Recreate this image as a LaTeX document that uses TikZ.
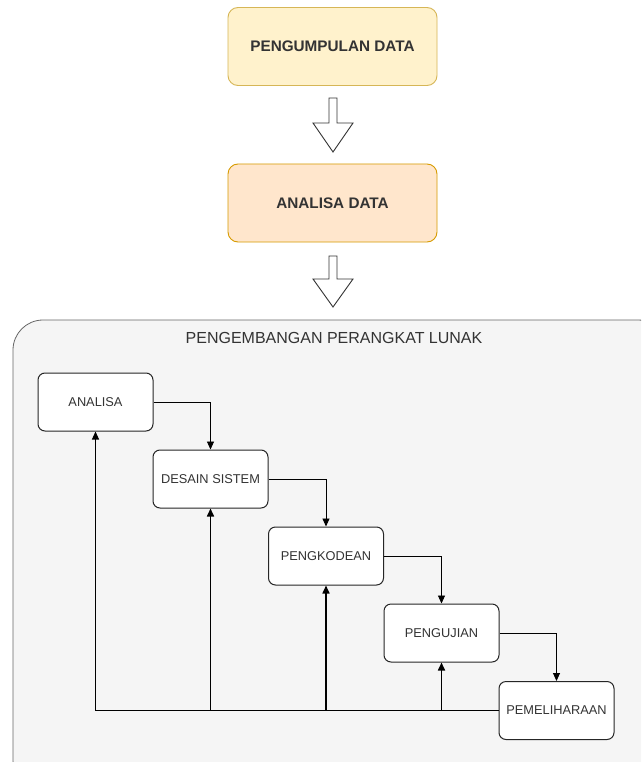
\documentclass[tikz,border=0pt]{standalone}
\usepackage{fontspec}
\setmainfont{Liberation Sans}
\usetikzlibrary{arrows.meta}
\definecolor{ylwfill}{HTML}{FFF2CC}
\definecolor{ylwline}{HTML}{D6B656}
\definecolor{orgfill}{HTML}{FFE6CC}
\definecolor{orgline}{HTML}{D79B00}
\definecolor{grpfill}{HTML}{F5F5F5}
\definecolor{grpline}{HTML}{666666}
\definecolor{txtgray}{HTML}{333333}
\tikzset{
  topbox/.style={draw, rounded corners=10pt, line width=0.9pt, minimum width=209pt, minimum height=78pt, font=\fontsize{15.3}{17}\selectfont\bfseries, text=txtgray},
  stagebox/.style={draw=black!85, fill=white, rounded corners=7pt, line width=1pt, minimum width=115pt, minimum height=58pt, font=\fontsize{12.8}{14}\selectfont, text=txtgray, inner sep=1pt},
  fwd/.style={-{Triangle[length=8pt,width=7pt]}, line width=0.9pt},
  back/.style={-{Triangle[length=8pt,width=7pt]}, line width=1.6pt},
  blockarrow/.style={draw=black!80, fill=white, line width=0.9pt, line join=miter}
}
\begin{document}
\begin{tikzpicture}[x=1pt,y=-1pt]
\useasboundingbox (0,0) rectangle (641,762);
\fill[white] (0,0) rectangle (641,762);
% top boxes
\node[topbox, fill=ylwfill, draw=ylwline] (collect) at (332.5,46.5) {PENGUMPULAN DATA};
\node[topbox, fill=orgfill, draw=orgline] (anadata) at (332.5,203) {ANALISA DATA};
% block arrows
\draw[blockarrow] (329,98) -- (337,98) -- (337,123) -- (353,123) -- (333,152) -- (313,123) -- (329,123) -- cycle;
\draw[blockarrow] (329,256) -- (337,256) -- (337,279) -- (353,279) -- (333,307) -- (313,279) -- (329,279) -- cycle;
% container
\begin{scope}
\clip (0,0) rectangle (641,762);
\draw[fill=grpfill, draw=grpline, line width=0.8pt, rounded corners=30pt] (13,320) rectangle (668,790);
\end{scope}
\node[font=\fontsize{16}{18}\selectfont, text=txtgray] (title) at (334,338) {PENGEMBANGAN PERANGKAT LUNAK};
% stages
\node[stagebox] (s1) at (95.5,402) {ANALISA};
\node[stagebox] (s2) at (210.5,479) {DESAIN SISTEM};
\node[stagebox] (s3) at (326,556) {PENGKODEAN};
\node[stagebox] (s4) at (441.5,633) {PENGUJIAN};
\node[stagebox] (s5) at (556.5,710.5) {PEMELIHARAAN};
% forward connectors
\draw[fwd] (s1.east) -| (s2.north);
\draw[fwd] (s2.east) -| (s3.north);
\draw[fwd] (s3.east) -| (s4.north);
\draw[fwd] (s4.east) -| (s5.north);
% feedback
\coordinate (b1) at (s1.south |- s5.west);
\coordinate (b2) at (s2.south |- s5.west);
\coordinate (b3) at (s3.south |- s5.west);
\coordinate (b4) at (s4.south |- s5.west);
\draw[line width=1.4pt] (s5.west) -- (b1);
\draw[-{Triangle[length=8pt,width=7pt]}, line width=1.2pt] (b1) -- (s1.south);
\draw[back] (b2) -- (s2.south);
\draw[back] (b3) -- (s3.south);
\draw[back] (b4) -- (s4.south);
\end{tikzpicture}
\end{document}
